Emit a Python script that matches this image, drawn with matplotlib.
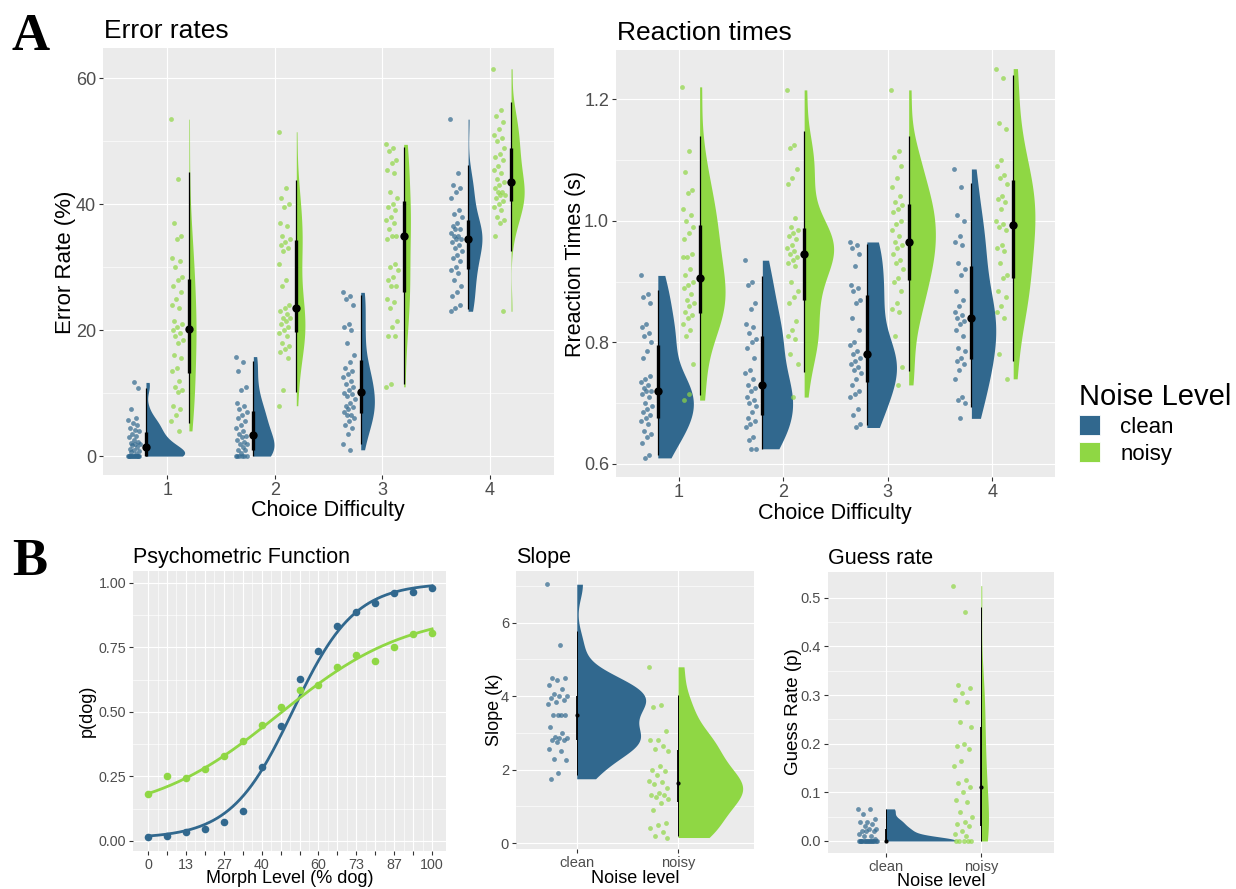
import numpy as np
import matplotlib
matplotlib.use('Agg')
import matplotlib.pyplot as plt
from matplotlib.patches import Patch

plt.rcParams['font.family'] = ['Liberation Sans', 'DejaVu Sans']

CLEAN = '#31688E'
NOISY = '#8FD744'
BG = '#EBEBEB'
TICKC = '#4D4D4D'

difficulty = [1, 2, 3, 4]
noise_levels = ['clean', 'noisy']

# error rates (%) per participant, difficulty 1..4
err_clean = [
    [0] * 14 + [0.4, 0.6, 0.8, 1.0, 1.2, 1.5, 1.7, 1.9, 2.0, 2.1, 2.2, 2.5, 3.0, 3.2, 3.5,
                4.0, 4.1, 4.5, 5.0, 5.2, 5.7, 6.0, 7.5, 10.8, 11.7],
    [15.8, 15, 13.5, 11, 10.5, 8.5, 8, 7.5, 7, 6.5, 6, 5.5, 5, 4.5, 4, 3.5, 3.2, 3, 2.5,
     2.2, 2, 2, 1.5, 1, 1, 0.5, 0, 0, 0, 0, 0, 0],
    [26, 25.5, 25, 24, 21, 20.5, 20, 18, 16, 15, 14, 13.5, 13, 12.5, 12, 11.5, 11, 10.5,
     10, 9.8, 9.5, 9, 8.5, 8, 7.8, 7.5, 7, 6.5, 6.5, 6, 5.5, 5, 4.5, 3.5, 2, 1],
    [53.5, 45, 43, 42.5, 42, 41, 39, 38.5, 38, 37, 36.5, 36, 36, 35.5, 35, 35, 34.5, 34.5,
     34, 33.5, 33, 32.5, 32, 31.5, 31, 30, 29.5, 29, 28, 27, 26, 25.5, 24, 23.5, 23],
]
err_noisy = [
    [53.5, 44, 37, 35, 34.5, 31.5, 31, 30, 28.5, 28, 27, 26, 25, 24, 23.5, 21.5, 21, 20.5,
     20, 19.5, 19, 18.5, 18, 16, 15.5, 14, 13.5, 12, 11, 10.5, 10.2, 8, 7.5, 6.5, 5.5, 4],
    [51.5, 42.5, 41, 40, 39.5, 37, 36.5, 35, 34.5, 34, 33.5, 33, 32.5, 30.5, 28, 27, 24,
     23.5, 23, 22.5, 22, 22, 21.5, 21, 20.5, 20, 19.5, 19, 18, 17.5, 17, 16.5, 15.5, 10.5, 8],
    [49.5, 49, 48.5, 47, 46.5, 45.5, 45, 42, 41, 40, 39.5, 39, 38, 37.5, 37, 36, 35, 35,
     34.5, 30.5, 30, 29.5, 28.5, 28, 27, 27, 25, 24.5, 23.5, 21.5, 20.5, 19, 19, 11.5, 11],
    [61.5, 55, 54, 53, 52, 51, 50.5, 50, 49, 48, 47.5, 47, 46, 45.5, 45, 44, 43.5, 43,
     42.5, 42, 42, 41.5, 41.5, 41, 40.5, 40, 39.5, 39, 38, 37.5, 37, 35, 23],
]

# reaction times (s)
rt_clean = [
    [0.91, 0.88, 0.875, 0.865, 0.83, 0.825, 0.815, 0.81, 0.80, 0.785, 0.775, 0.745, 0.74,
     0.735, 0.73, 0.725, 0.72, 0.72, 0.715, 0.71, 0.70, 0.695, 0.69, 0.685, 0.68, 0.675,
     0.67, 0.665, 0.655, 0.65, 0.645, 0.635, 0.615, 0.61],
    [0.935, 0.90, 0.895, 0.865, 0.855, 0.83, 0.825, 0.815, 0.805, 0.80, 0.79, 0.775, 0.755,
     0.75, 0.74, 0.73, 0.725, 0.72, 0.71, 0.705, 0.70, 0.695, 0.685, 0.675, 0.67, 0.665,
     0.66, 0.645, 0.64, 0.625, 0.625],
    [0.965, 0.96, 0.955, 0.945, 0.925, 0.895, 0.89, 0.885, 0.87, 0.865, 0.84, 0.82, 0.80,
     0.795, 0.785, 0.78, 0.775, 0.77, 0.765, 0.76, 0.755, 0.75, 0.74, 0.73, 0.72, 0.715,
     0.71, 0.69, 0.68, 0.665, 0.66],
    [1.085, 1.055, 1.01, 1.0, 0.975, 0.965, 0.96, 0.93, 0.92, 0.91, 0.885, 0.87, 0.86,
     0.85, 0.845, 0.84, 0.835, 0.83, 0.82, 0.81, 0.79, 0.785, 0.775, 0.77, 0.765, 0.755,
     0.74, 0.71, 0.705, 0.70, 0.675],
]
rt_noisy = [
    [1.22, 1.115, 1.08, 1.05, 1.045, 1.02, 1.01, 1.00, 0.99, 0.98, 0.97, 0.945, 0.94, 0.94,
     0.92, 0.91, 0.90, 0.895, 0.89, 0.88, 0.87, 0.865, 0.86, 0.85, 0.845, 0.84, 0.83, 0.82,
     0.81, 0.765, 0.715, 0.705],
    [1.215, 1.125, 1.12, 1.085, 1.07, 1.06, 1.005, 0.99, 0.985, 0.98, 0.975, 0.97, 0.96,
     0.955, 0.95, 0.945, 0.94, 0.935, 0.93, 0.925, 0.90, 0.885, 0.875, 0.865, 0.835, 0.82,
     0.81, 0.805, 0.78, 0.765, 0.71],
    [1.215, 1.115, 1.105, 1.09, 1.07, 1.055, 1.04, 1.03, 1.025, 1.02, 1.015, 1.0, 0.995,
     0.985, 0.975, 0.965, 0.96, 0.955, 0.945, 0.935, 0.93, 0.92, 0.905, 0.90, 0.885, 0.865,
     0.855, 0.85, 0.81, 0.76, 0.73],
    [1.25, 1.235, 1.16, 1.15, 1.10, 1.09, 1.075, 1.07, 1.06, 1.04, 1.035, 1.03, 1.02, 1.0,
     0.995, 0.99, 0.985, 0.96, 0.955, 0.95, 0.93, 0.91, 0.905, 0.885, 0.875, 0.86, 0.85,
     0.84, 0.78, 0.74],
]

# psychometric function
morph_levels = [0, 6.67, 13.33, 20, 26.67, 33.33, 40, 46.67, 53.33, 60, 66.67, 73.33,
                80, 86.67, 93.33, 100]
morph_labels = ['0', '', '13', '', '27', '', '40', '', '', '60', '', '73', '', '87', '', '100']
pdog_clean = [0.017, 0.021, 0.036, 0.045, 0.075, 0.115, 0.286, 0.447, 0.628, 0.737,
              0.834, 0.887, 0.924, 0.960, 0.965, 0.981]
pdog_noisy = [0.182, 0.253, 0.243, 0.278, 0.331, 0.389, 0.450, 0.519, 0.586, 0.606,
              0.675, 0.719, 0.696, 0.752, 0.802, 0.807]
# fitted logistic parameters: threshold, slope, guess, lapse
fit_mid = [51, 46]
fit_k = [0.092, 0.044]
fit_guess = [0.01, 0.09]
fit_lapse = [0.0, 0.11]

# per-participant psychometric parameters
slope_clean = [7.05, 5.4, 4.5, 4.5, 4.45, 4.3, 4.2, 4.05, 4.0, 4.0, 3.95, 3.9, 3.85, 3.8,
               3.5, 3.5, 3.5, 3.5, 3.15, 3.0, 2.9, 2.85, 2.85, 2.8, 2.8, 2.75, 2.55, 2.5,
               2.3, 2.25, 1.9, 1.75]
slope_noisy = [4.8, 3.75, 3.7, 3.05, 2.8, 2.8, 2.65, 2.55, 2.5, 2.1, 2.0, 1.95, 1.85, 1.7,
               1.65, 1.6, 1.5, 1.35, 1.3, 1.3, 1.25, 1.2, 1.1, 0.9, 0.55, 0.5, 0.4, 0.3,
               0.2, 0.15]
guess_clean = [0.066, 0.065, 0.055, 0.045, 0.04, 0.04, 0.035, 0.03, 0.025, 0.025, 0.02,
               0.02, 0.02, 0.015, 0.01, 0.01, 0.005] + [0] * 18
guess_noisy = [0.525, 0.47, 0.32, 0.315, 0.305, 0.29, 0.285, 0.245, 0.235, 0.20, 0.195,
               0.19, 0.165, 0.155, 0.125, 0.12, 0.11, 0.10, 0.085, 0.08, 0.06, 0.05, 0.04,
               0.035, 0.03, 0.02, 0.015, 0.01, 0, 0, 0, 0, 0]


def nrd0(v):
    sd = v.std(ddof=1)
    q75, q25 = np.percentile(v, [75, 25])
    lo = min(sd, (q75 - q25) / 1.34)
    if lo <= 0:
        lo = sd
    return 0.9 * lo * len(v) ** -0.2


def kde(v, grid):
    bw = nrd0(v)
    z = (grid[:, None] - v[None, :]) / bw
    return np.exp(-0.5 * z ** 2).sum(1) / (len(v) * bw * np.sqrt(2 * np.pi))


def raincloud(ax, groups, bases, colors, width, pt_off, pt_spread, pt_size,
              dot_ms, thick_lw, thin_lw):
    dens = []
    for v in groups:
        v = np.asarray(v, float)
        grid = np.linspace(v.min(), v.max(), 400)
        dens.append((v, grid, kde(v, grid)))
    scale = width / max(d.max() for _, _, d in dens)
    for (v, grid, d), b, c in zip(dens, bases, colors):
        ax.fill_betweenx(grid, b, b + d * scale, color=c, lw=0, zorder=2)
        jit = ((np.arange(len(v)) * 0.618034) % 1 - 0.5) * pt_spread
        ax.scatter(b + pt_off + jit, v, s=pt_size, color=c, alpha=0.7, lw=0, zorder=3)
        q = np.percentile(v, [2.5, 25, 50, 75, 97.5])
        ax.plot([b, b], [q[0], q[4]], color='black', lw=thin_lw, zorder=4,
                solid_capstyle='butt')
        ax.plot([b, b], [q[1], q[3]], color='black', lw=thick_lw, zorder=4,
                solid_capstyle='butt')
        ax.plot(b, q[2], 'o', color='black', ms=dot_ms, mew=0, zorder=5)


def style(ax, xlim, ylim, xticks, xlabels, yticks, ylabels, yminor, fs, xminor=()):
    ax.set_facecolor(BG)
    for s in ax.spines.values():
        s.set_visible(False)
    ax.set_xlim(*xlim)
    ax.set_ylim(*ylim)
    ax.set_xticks(xticks)
    ax.set_xticklabels(xlabels)
    ax.set_yticks(yticks)
    ax.set_yticklabels(ylabels)
    ax.set_yticks(yminor, minor=True)
    ax.set_xticks(list(xminor), minor=True)
    ax.grid(which='major', color='white', lw=0.85)
    ax.grid(which='minor', color='white', lw=0.45)
    ax.set_axisbelow(True)
    ax.tick_params(which='major', length=3, width=0.8, color='#333333',
                   labelcolor=TICKC, labelsize=fs, pad=2)
    ax.tick_params(which='minor', length=0)


W, H = 1236, 889
fig = plt.figure(figsize=(W / 100, H / 100), dpi=100)


def fx(px):
    return px / W


def fy(py):
    return 1 - py / H


# ---- A: error rates
ax1 = fig.add_axes([fx(103), fy(475), fx(554 - 103), (475 - 48) / H])
bases_c = [d - 0.2 for d in difficulty]
bases_n = [d + 0.2 for d in difficulty]
raincloud(ax1, err_clean + err_noisy, bases_c + bases_n, [CLEAN] * 4 + [NOISY] * 4,
          0.36, -0.11, 0.11, 12, 6, 2.4, 0.9)
style(ax1, (0.4, 4.6), (-3.0, 64.8), difficulty, [str(d) for d in difficulty],
      [0, 20, 40, 60], ['0', '20', '40', '60'], [10, 30, 50], 13)

# ---- A: reaction times
ax2 = fig.add_axes([fx(616), fy(477), fx(1055 - 616), (477 - 50) / H])
raincloud(ax2, rt_clean + rt_noisy, bases_c + bases_n, [CLEAN] * 4 + [NOISY] * 4,
          0.34, -0.11, 0.11, 12, 6, 2.4, 0.9)
style(ax2, (0.4, 4.6), (0.5786, 1.2806), difficulty, [str(d) for d in difficulty],
      [0.6, 0.8, 1.0, 1.2], ['0.6', '0.8', '1.0', '1.2'], [0.7, 0.9, 1.1], 13)

# ---- B: psychometric function
ax3 = fig.add_axes([fx(133), fy(851), fx(446 - 133), (851 - 571) / H])
xs = np.linspace(0, 100, 300)
for i, (vals, col) in enumerate([(pdog_clean, CLEAN), (pdog_noisy, NOISY)]):
    curve = fit_guess[i] + (1 - fit_guess[i] - fit_lapse[i]) / (
        1 + np.exp(-fit_k[i] * (xs - fit_mid[i])))
    ax3.plot(xs, curve, color=col, lw=2.0, zorder=3)
    ax3.scatter(morph_levels, vals, s=30, color=col, lw=0, zorder=4)
mid_minor = [(a + b) / 2 for a, b in zip(morph_levels[:-1], morph_levels[1:])]
style(ax3, (-5.3, 104.9), (-0.039, 1.0465), morph_levels, morph_labels,
      [0, 0.25, 0.5, 0.75, 1.0], ['0.00', '0.25', '0.50', '0.75', '1.00'],
      [0.125, 0.375, 0.625, 0.875], 10.3, xminor=mid_minor)

# ---- B: slope
ax4 = fig.add_axes([fx(516), fy(849), fx(754 - 516), (849 - 571) / H])
raincloud(ax4, [slope_clean, slope_noisy], [1, 2], [CLEAN, NOISY],
          0.68, -0.19, 0.2, 12, 3, 1.3, 0.7)
style(ax4, (0.4, 2.75), (-0.163, 7.41), [1, 2], noise_levels,
      [0, 2, 4, 6], ['0', '2', '4', '6'], [1, 3, 5, 7], 10.5)

# ---- B: guess rate
ax5 = fig.add_axes([fx(828), fy(853), fx(1054 - 828), (853 - 572) / H])
raincloud(ax5, [guess_clean, guess_noisy], [1, 2], [CLEAN, NOISY],
          0.73, -0.19, 0.2, 12, 3, 1.3, 0.7)
style(ax5, (0.39, 2.77), (-0.0247, 0.553), [1, 2], noise_levels,
      [0, 0.1, 0.2, 0.3, 0.4, 0.5], ['0.0', '0.1', '0.2', '0.3', '0.4', '0.5'],
      [0.05, 0.15, 0.25, 0.35, 0.45], 10.5)

# ---- titles and axis labels
fig.text(fx(104), fy(38), 'Error rates', fontsize=19, va='baseline')
fig.text(fx(617), fy(40), 'Reaction times', fontsize=19, va='baseline')
fig.text(fx(133), fy(563), 'Psychometric Function', fontsize=15.5, va='baseline')
fig.text(fx(516), fy(563), 'Slope', fontsize=15.5, va='baseline')
fig.text(fx(828), fy(564), 'Guess rate', fontsize=15.5, va='baseline')

fig.text(fx(328), fy(516), 'Choice Difficulty', fontsize=15.5, ha='center', va='baseline')
fig.text(fx(835), fy(519), 'Choice Difficulty', fontsize=15.5, ha='center', va='baseline')
fig.text(fx(290), fy(883), 'Morph Level (% dog)', fontsize=13, ha='center', va='baseline')
fig.text(fx(635), fy(883), 'Noise level', fontsize=13, ha='center', va='baseline')
fig.text(fx(941), fy(886), 'Noise level', fontsize=13, ha='center', va='baseline')

fig.text(fx(66), fy(262), 'Error Rate (%)', fontsize=16, rotation=90, ha='center', va='center')
fig.text(fx(576), fy(264), 'Rreaction Times (s)', fontsize=15.5, rotation=90,
         ha='center', va='center')
fig.text(fx(87), fy(711), 'p(dog)', fontsize=13, rotation=90, ha='center', va='center')
fig.text(fx(494), fy(710), 'Slope (k)', fontsize=13, rotation=90, ha='center', va='center')
fig.text(fx(793), fy(712), 'Guess Rate (p)', fontsize=13.5, rotation=90,
         ha='center', va='center')

fig.text(fx(12), fy(50), 'A', fontsize=38, fontweight='bold', va='baseline',
         family=['Liberation Serif', 'DejaVu Serif'])
fig.text(fx(12), fy(575), 'B', fontsize=38, fontweight='bold', va='baseline',
         family=['Liberation Serif', 'DejaVu Serif'])

# ---- legend
handles = [Patch(facecolor=CLEAN, edgecolor='white', lw=0.6),
           Patch(facecolor=NOISY, edgecolor='white', lw=0.6)]
leg = fig.legend(handles, noise_levels, loc='upper left',
                 bbox_to_anchor=(fx(1079), fy(383)), title='Noise Level',
                 title_fontsize=21, fontsize=16, frameon=False, handlelength=0.95,
                 handleheight=1.0, handletextpad=0.9, labelspacing=0.2,
                 borderpad=0.0, borderaxespad=0.0, alignment='left')

fig.savefig('out.png', dpi=100)
